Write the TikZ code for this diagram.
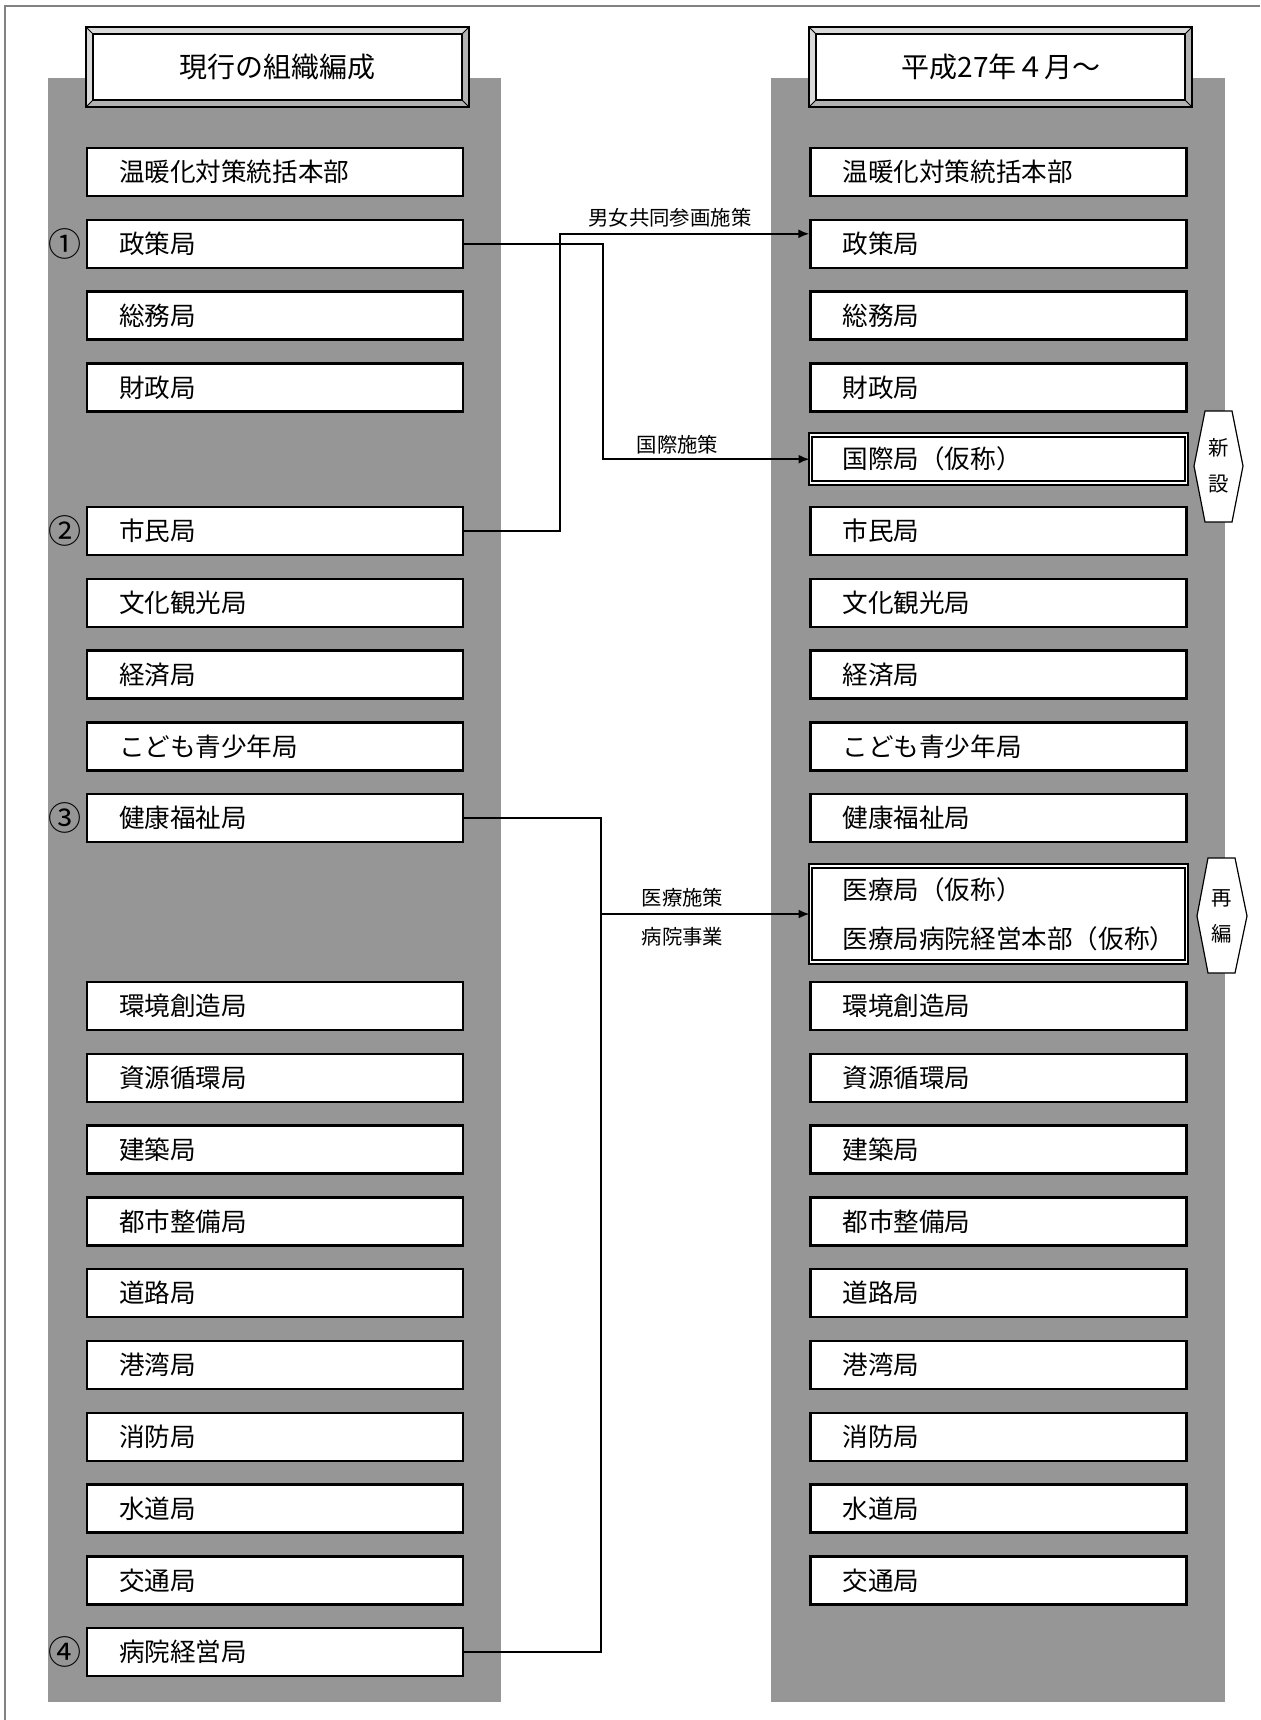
\documentclass[tikz,border=0pt]{standalone}
\usepackage{fontspec}
\setmainfont{Noto Sans CJK JP}
\usetikzlibrary{arrows.meta,positioning}
\definecolor{haiiro}{RGB}{150,150,150}
\definecolor{wakusen}{RGB}{130,130,130}
\newcommand\honbunfont{\fontsize{12.8}{15}\selectfont}
\newcommand\midashifont{\fontsize{14}{16}\selectfont}
\newcommand\chukifont{\fontsize{10.2}{12}\selectfont}

\begin{document}
\begin{tikzpicture}[x=0.5pt,y=-0.5pt]
%スタイルの定義
\tikzset{
  kyoku/.style={draw,line width=1.2pt,fill=white,minimum height=24pt,text width=156pt,inner xsep=16pt,inner ysep=0pt,align=left,font=\honbunfont},
  shinkyoku/.style={kyoku,line width=1pt,double,double distance=0.8pt},
  midashi/.style={font=\midashifont},
  sen/.style={line width=0.9pt},
  yaji/.style={sen,-{Latex[length=5.5pt,width=4.5pt]}},
  sesaku/.style={font=\chukifont,inner sep=1pt},
  maru/.style={font=\fontsize{16.5}{16.5}\selectfont,inner sep=0pt},
  rokkaku/.style={draw,fill=white,line width=0.6pt},
  tagmoji/.style={align=center,font=\fontsize{10.2}{18}\selectfont},
}
\useasboundingbox (0,0) rectangle (1260,1720);
\draw[wakusen,line width=1pt] (5,1720) -- (5,6) -- (1260,6);
%灰色の地
\fill[haiiro] (48,78) rectangle (501,1702);
\fill[haiiro] (771,78) rectangle (1225,1702);
%見出し（ベベル枠）
\foreach \dx in {0,723} {
  \fill[gray!30] (86+\dx,27) rectangle (469+\dx,107);
  \fill[gray!60] (469+\dx,27) -- (462+\dx,34) -- (462+\dx,100) -- (93+\dx,100) -- (86+\dx,107) -- (469+\dx,107) -- cycle;
  \draw[fill=white,line width=0.6pt] (93+\dx,34) rectangle (462+\dx,100);
  \draw[line width=1pt] (86+\dx,27) rectangle (469+\dx,107);
  \draw[line width=0.5pt] (86+\dx,27) -- (93+\dx,34) (469+\dx,27) -- (462+\dx,34)
    (86+\dx,107) -- (93+\dx,100) (469+\dx,107) -- (462+\dx,100);
}
\node[midashi] (genko) at (277.5,67) {現行の組織編成};
\node[midashi] (heisei) at (1001,67) {平成27年４月～};
%局の箱
\foreach \i/\t in {0/温暖化対策統括本部,1/政策局,2/総務局,3/財政局,5/市民局,6/文化観光局,7/経済局,8/こども青少年局,9/健康福祉局} {
  \node[kyoku] (o\i) at (275,172+71.8*\i) {\t};
  \node[kyoku] (n\i) at (998.5,172+71.8*\i) {\t};
}
\foreach \i/\t in {0/環境創造局,1/資源循環局,2/建築局,3/都市整備局,4/道路局,5/港湾局,6/消防局,7/水道局,8/交通局} {
  \node[kyoku] (ob\i) at (275,1006+71.8*\i) {\t};
  \node[kyoku] (nb\i) at (998.5,1006+71.8*\i) {\t};
}
\node[kyoku] (ob9) at (275,1652.2) {病院経営局};
\node[shinkyoku] (n4) at (998.5,459.2) {国際局（仮称）};
\node[shinkyoku,minimum height=48pt,font=\fontsize{12.8}{24.5}\selectfont] (nm) at (998.5,914) {医療局（仮称）\\医療局病院経営本部（仮称）};
%丸数字
\node[maru,left=2pt of o1] (c1) {①};
\node[maru,left=2pt of o5] (c2) {②};
\node[maru,left=2pt of o9] (c3) {③};
\node[maru,left=2pt of ob9] (c4) {④};
%矢印
\draw[yaji] (o1.east) -- ++(139,0) |- (n4.west) node[sesaku,above=1pt,pos=0.68] {国際施策};
\draw[yaji] (o5.east) -- ++(96,0) |- ([yshift=5pt]n1.west) node[sesaku,above=2pt,pos=0.72] {男女共同参画施策};
\draw[sen] (o9.east) -- ++(137,0) coordinate (kiten) |- (ob9.east);
\draw[yaji] (kiten |- nm.west) -- (nm.west) node[sesaku,above=2pt,pos=0.39] {医療施策} node[sesaku,below=5pt,pos=0.39] {病院事業};
%新設・再編
\draw[rokkaku] (1205,411) -- (1232,411) -- (1243,466) -- (1232,522) -- (1205,522) -- (1194,466) -- cycle;
\node[tagmoji] (shinsetsu) at (1218.5,466) {新\\設};
\draw[rokkaku] (1208,858) -- (1235,858) -- (1247,916) -- (1235,973) -- (1208,973) -- (1197,916) -- cycle;
\node[tagmoji] (saihen) at (1221.5,916) {再\\編};
\end{tikzpicture}
\end{document}
